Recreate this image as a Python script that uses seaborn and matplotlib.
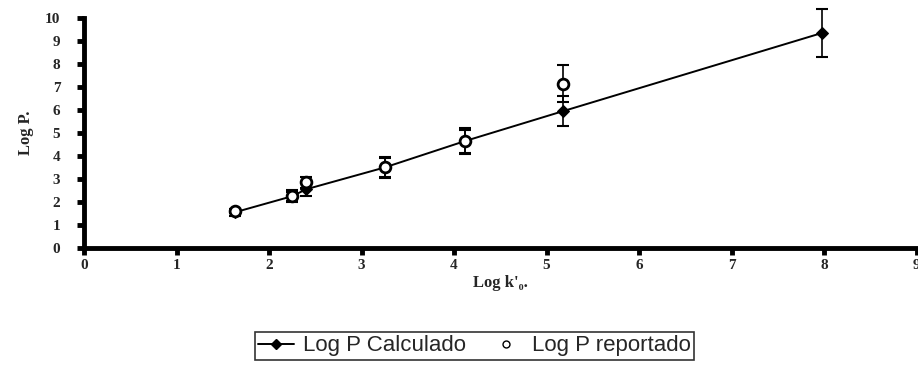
import matplotlib
matplotlib.use("Agg")
import matplotlib.pyplot as plt
import seaborn as sns
import pandas as pd
from matplotlib.lines import Line2D

# ---------- data ----------
x_calc = [1.63, 2.25, 2.40, 3.25, 4.12, 5.18, 7.98]
logp_calc = [1.55, 2.25, 2.55, 3.50, 4.65, 5.95, 9.35]
err_calc = [0.15, 0.25, 0.30, 0.45, 0.55, 0.65, 1.05]

x_rep = [1.63, 2.25, 2.40, 3.25, 4.12, 5.18]
logp_rep = [1.60, 2.25, 2.85, 3.50, 4.65, 7.15]
err_rep = [0.10, 0.20, 0.25, 0.40, 0.50, 0.80]

x_ticks = list(range(0, 10))
y_ticks = list(range(0, 11))

calc = pd.DataFrame({"x": x_calc, "y": logp_calc, "err": err_calc})
rep = pd.DataFrame({"x": x_rep, "y": logp_rep, "err": err_rep})

sns.set_theme(style="ticks")
serif = ["Liberation Serif", "DejaVu Serif"]

fig = plt.figure(figsize=(9.18, 3.74), dpi=100)
ax = fig.add_axes([0.0915, 0.337, 0.907, 0.615])

# error bars
for d in (calc, rep):
    eb = ax.errorbar(d.x, d.y, yerr=d.err, fmt="none", ecolor="black",
                     elinewidth=1.2, capsize=4, capthick=1.5, zorder=2)
    for art in eb.lines[1] + eb.lines[2]:
        art.set_clip_on(False)

# calculated: line + filled diamonds
sns.lineplot(data=calc, x="x", y="y", ax=ax, color="black", linewidth=1.4,
             marker="D", markersize=6, markerfacecolor="black",
             markeredgecolor="black", zorder=3)
# reported: open circles
sns.scatterplot(data=rep, x="x", y="y", ax=ax, marker="o", s=60,
                facecolor="white", edgecolor="black", linewidth=2, zorder=4)

ax.set_xlim(0, 9)
ax.set_ylim(0, 10)
ax.set_xticks(x_ticks)
ax.set_yticks(y_ticks)
ax.set_xticklabels([str(t) for t in x_ticks], family=serif,
                   fontweight="bold", fontsize=11)
ax.set_yticklabels([str(t) for t in y_ticks], family=serif,
                   fontweight="bold", fontsize=11)
ax.tick_params(axis="both", direction="out", length=5, width=3.5,
               color="black", bottom=True, left=True)
ax.tick_params(axis="x", pad=3)
ax.tick_params(axis="y", pad=12)

for side in ["top", "right"]:
    ax.spines[side].set_visible(False)
for side in ["left", "bottom"]:
    ax.spines[side].set_linewidth(3.5)
    ax.spines[side].set_color("black")

ax.set_xlabel("Log k'\u2080.", family=serif, fontweight="bold",
              fontsize=12, labelpad=2)
ax.set_ylabel("Log P.", family=serif, fontweight="bold",
              fontsize=12, labelpad=8)

handles = [
    Line2D([0], [0], color="black", linewidth=1.4, marker="D",
           markersize=5, markerfacecolor="black"),
    Line2D([0], [0], linestyle="none", marker="o", markersize=5,
           markerfacecolor="white", markeredgecolor="black"),
]
leg = fig.legend(handles, ["Log P Calculado", "Log P reportado"],
                 loc="center", bbox_to_anchor=(0.517, 0.075), ncol=2,
                 frameon=True, fancybox=False,
                 prop={"family": ["Liberation Sans", "DejaVu Sans"], "size": 16},
                 handlelength=1.6, handletextpad=0.4, columnspacing=1.0,
                 borderpad=0.15)
leg.get_frame().set_edgecolor("black")
leg.get_frame().set_linewidth(1.2)

fig.savefig("out.png", dpi=100)
